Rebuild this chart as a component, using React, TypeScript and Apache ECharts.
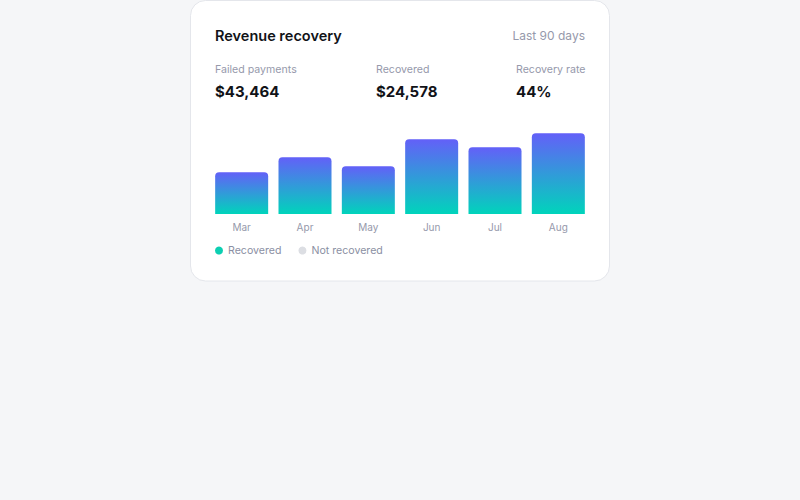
import React, { useEffect, useRef } from "react";
import * as echarts from "echarts";

const months = ["Mar", "Apr", "May", "Jun", "Jul", "Aug"];
const recovered = [2790, 3790, 3190, 4980, 4450, 5378];
const notRecovered: number[] = [];
const legendNames = ["Recovered", "Not recovered"];
const summaryLabels = ["Failed payments", "Recovered", "Recovery rate"];
const summaryValues = ["$43,464", "$24,578", "44%"];
const title = "Revenue recovery";
const period = "Last 90 days";

const FONT = "Inter, 'Noto Sans', sans-serif";
const MUTED = "#9699ab";

export default function App() {
  const ref = useRef<HTMLDivElement>(null);
  useEffect(() => {
    if (!ref.current) return;
    const chart = echarts.init(ref.current, undefined, { renderer: "svg" });
    const colX = [215, 376, 516];
    const graphic: any[] = [
      {
        type: "rect",
        z: -10,
        silent: true,
        shape: { x: 190.5, y: 0.5, width: 419, height: 280.5, r: 15 },
        style: { fill: "#ffffff", stroke: "#e4e6eb", lineWidth: 1 },
      },
      {
        type: "text",
        x: 215,
        y: 35,
        style: {
          text: title,
          fill: "#111318",
          font: `600 14.5px ${FONT}`,
          verticalAlign: "middle",
          align: "left",
        },
      },
      {
        type: "text",
        x: 585,
        y: 35,
        style: {
          text: period,
          fill: MUTED,
          font: `400 12px ${FONT}`,
          verticalAlign: "middle",
          align: "right",
        },
      },
    ];
    summaryLabels.forEach((lab, i) => {
      graphic.push({
        type: "text",
        x: colX[i],
        y: 69.5,
        style: {
          text: lab,
          fill: MUTED,
          font: `400 10.6px ${FONT}`,
          verticalAlign: "middle",
          align: "left",
        },
      });
      graphic.push({
        type: "text",
        x: colX[i],
        y: 91,
        style: {
          text: summaryValues[i],
          fill: "#111318",
          font: `700 15px ${FONT}`,
          verticalAlign: "middle",
          align: "left",
        },
      });
    });

    chart.setOption({
      animation: false,
      backgroundColor: "#f5f6f8",
      textStyle: { fontFamily: FONT },
      graphic,
      grid: { left: 210, right: 210, top: 124, bottom: 286 },
      legend: {
        left: 215,
        top: 245,
        padding: 0,
        icon: "circle",
        itemWidth: 8,
        itemHeight: 8,
        itemGap: 17,
        textStyle: { color: "#8b8fa3", fontSize: 10.6, fontFamily: FONT },
        data: [
          { name: legendNames[0], itemStyle: { color: "#0ccfb2" } },
          { name: legendNames[1], itemStyle: { color: "#dcdee3" } },
        ],
      },
      xAxis: {
        type: "category",
        data: months,
        axisLine: { show: false },
        axisTick: { show: false },
        axisLabel: { color: MUTED, fontSize: 10, margin: 7.5, fontFamily: FONT },
      },
      yAxis: {
        type: "value",
        min: 0,
        max: 6000,
        show: false,
        splitLine: { show: false },
      },
      series: [
        {
          name: legendNames[0],
          type: "bar",
          stack: "total",
          data: recovered,
          barWidth: 53,
          itemStyle: {
            borderRadius: [4, 4, 0, 0],
            color: new echarts.graphic.LinearGradient(0, 0, 0, 1, [
              { offset: 0, color: "#6360f8" },
              { offset: 1, color: "#00d4bb" },
            ]),
          },
        },
        {
          name: legendNames[1],
          type: "bar",
          stack: "total",
          data: notRecovered,
          barWidth: 53,
          itemStyle: { color: "#dcdee3" },
        },
      ],
    });
    return () => chart.dispose();
  }, []);
  return (
    <div
      ref={ref}
      style={{ position: "fixed", left: 0, top: 0, width: 800, height: 500, background: "#f5f6f8" }}
    />
  );
}
